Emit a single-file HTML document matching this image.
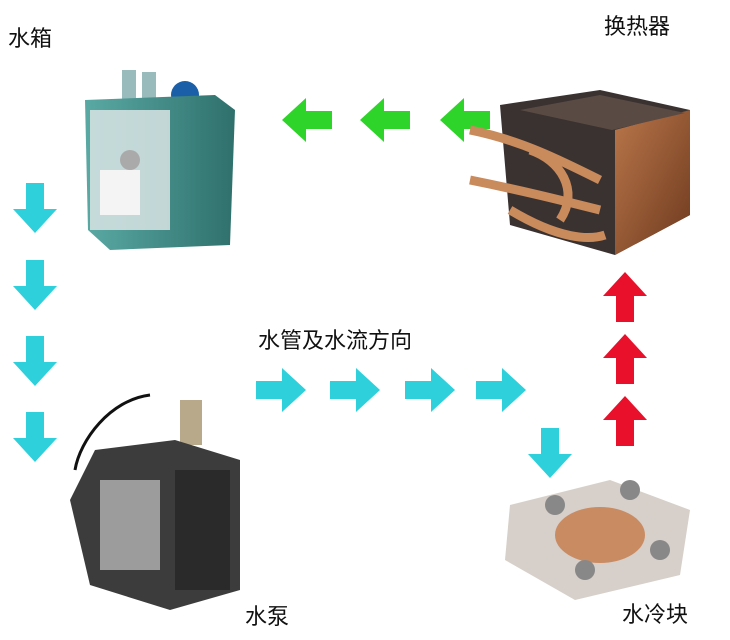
<!DOCTYPE html>
<html><head><meta charset="utf-8"><style>
html,body{margin:0;padding:0;background:#fff;}
svg{display:block;}
text{font-family:"Liberation Sans","Noto Sans CJK SC",sans-serif;font-size:22px;fill:#111;}
</style></head><body>
<svg width="730" height="640" viewBox="0 0 730 640" xmlns="http://www.w3.org/2000/svg">
<defs>
<path id="ar" d="M0,13 H26 V0 L50,22 L26,44 V31 H0 Z"/>
<linearGradient id="cu" x1="0" y1="0" x2="1" y2="1"><stop offset="0" stop-color="#b9764a"/><stop offset="1" stop-color="#6e3a1e"/></linearGradient>
<linearGradient id="tk" x1="0" y1="0" x2="1" y2="0"><stop offset="0" stop-color="#5aa9a4"/><stop offset="1" stop-color="#2f706c"/></linearGradient>
</defs>
<rect width="730" height="640" fill="#fff"/>
<text x="8" y="46">水箱</text>
<text x="604" y="34">换热器</text>
<text x="258" y="348">水管及水流方向</text>
<text x="245" y="624">水泵</text>
<text x="622" y="622">水冷块</text>

<!-- green left arrows -->
<g fill="#2fd42a">
<use href="#ar" transform="translate(332,98) scale(-1,1)"/>
<use href="#ar" transform="translate(410,98) scale(-1,1)"/>
<use href="#ar" transform="translate(490,98) scale(-1,1)"/>
</g>
<!-- cyan down arrows left column -->
<g fill="#2ed0dc">
<use href="#ar" transform="translate(57,183) rotate(90)"/>
<use href="#ar" transform="translate(57,260) rotate(90)"/>
<use href="#ar" transform="translate(57,336) rotate(90)"/>
<use href="#ar" transform="translate(57,412) rotate(90)"/>
<!-- right arrows -->
<use href="#ar" transform="translate(256,368)"/>
<use href="#ar" transform="translate(330,368)"/>
<use href="#ar" transform="translate(405,368)"/>
<use href="#ar" transform="translate(476,368)"/>
<use href="#ar" transform="translate(572,428) rotate(90)"/>
</g>
<!-- red up arrows -->
<g fill="#e8102a">
<use href="#ar" transform="translate(603,322) rotate(-90)"/>
<use href="#ar" transform="translate(603,384) rotate(-90)"/>
<use href="#ar" transform="translate(603,446) rotate(-90)"/>
</g>

<!-- water tank -->
<rect x="122" y="70" width="14" height="30" fill="#9bb"/>
<rect x="142" y="72" width="14" height="28" fill="#9bb"/>
<circle cx="185" cy="95" r="14" fill="#1b5fa8"/>
<path d="M85,100 L215,95 L235,110 L230,245 L110,250 L88,230 Z" fill="url(#tk)"/>
<rect x="90" y="110" width="80" height="120" fill="#d8e4e4" opacity="0.85"/>
<rect x="100" y="170" width="40" height="45" fill="#f4f4f4"/>
<circle cx="130" cy="160" r="10" fill="#aaa"/>

<!-- heat exchanger -->
<path d="M500,105 L600,90 L690,110 L690,215 L615,255 L510,225 Z" fill="#3a3230"/>
<path d="M615,130 L690,110 L690,215 L615,255 Z" fill="url(#cu)"/>
<path d="M520,110 L600,95 L685,113 L612,130 Z" fill="#5a4a44"/>
<g stroke="#c98a5c" stroke-width="9" fill="none">
<path d="M470,130 C520,140 560,160 600,180"/>
<path d="M470,180 C520,190 560,200 600,210"/>
<path d="M510,210 C560,240 590,240 605,235"/>
<path d="M530,150 C560,160 580,190 560,220"/>
</g>

<!-- pump -->
<rect x="180" y="400" width="22" height="45" fill="#b8a98a"/>
<path d="M150,395 C110,400 80,440 75,470" stroke="#111" stroke-width="3" fill="none"/>
<path d="M95,450 L175,440 L240,460 L240,590 L170,610 L90,585 L70,500 Z" fill="#3c3c3c"/>
<rect x="100" y="480" width="60" height="90" fill="#9c9c9c"/>
<rect x="175" y="470" width="55" height="120" fill="#2a2a2a"/>

<!-- water block -->
<path d="M510,505 L610,480 L690,510 L680,575 L575,600 L505,560 Z" fill="#d7cfc9"/>
<ellipse cx="600" cy="535" rx="45" ry="28" fill="#c98b62"/>
<circle cx="555" cy="505" r="10" fill="#888"/>
<circle cx="630" cy="490" r="10" fill="#888"/>
<circle cx="585" cy="570" r="10" fill="#888"/>
<circle cx="660" cy="550" r="10" fill="#888"/>
</svg>
</body></html>
